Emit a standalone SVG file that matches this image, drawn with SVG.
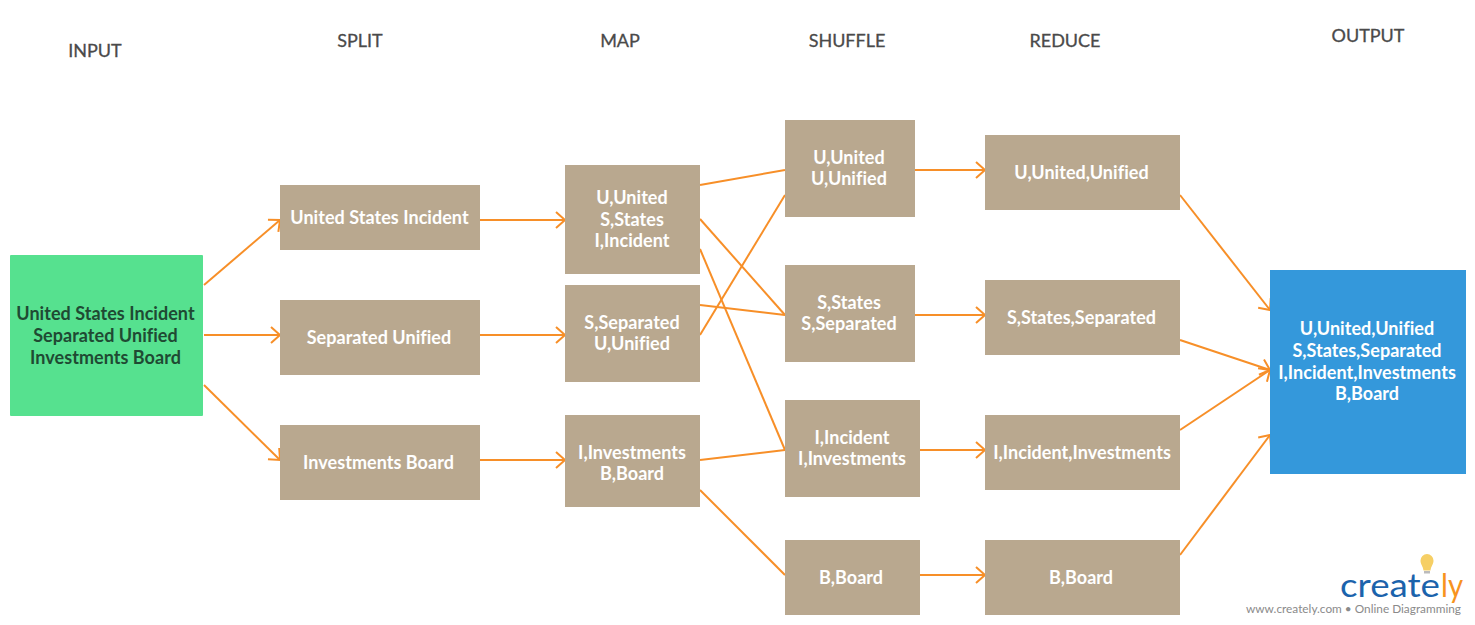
<svg xmlns="http://www.w3.org/2000/svg" width="1475" height="625" viewBox="0 0 1475 625">
<style>
.n{fill:#b9a88f}
text{font-family:Lato,"Liberation Sans",sans-serif}
.w{fill:#fff;font-size:18px;font-weight:700;text-anchor:middle;letter-spacing:.04px}
.d{fill:#1f4a33;font-size:18px;font-weight:700;text-anchor:middle;letter-spacing:.04px}
.h{fill:#4a4a4a;stroke:#4a4a4a;stroke-width:.3px;font-size:18px;text-anchor:middle}
.c line{stroke:#f78f28;stroke-width:2;fill:none}
.a{marker-end:url(#ar)}
</style>
<defs>
<marker id="ar" markerUnits="userSpaceOnUse" markerWidth="14" markerHeight="20" refX="11" refY="9" orient="auto" viewBox="0 0 14 18">
<path d="M2 1L11 9L2 17" fill="none" stroke="#f78f28" stroke-width="2"/>
</marker>
</defs>
<rect width="1475" height="625" fill="#fff"/>
<g id="headers">
<text class="h" x="95" y="57">INPUT</text>
<text class="h" x="360" y="47">SPLIT</text>
<text class="h" x="620" y="47">MAP</text>
<text class="h" x="847" y="47">SHUFFLE</text>
<text class="h" x="1065" y="47">REDUCE</text>
<text class="h" x="1368" y="42">OUTPUT</text>
</g>
<g id="connectors" class="c">
<line class="a" x1="204" y1="285" x2="280" y2="220"/>
<line class="a" x1="204" y1="335" x2="280" y2="335"/>
<line class="a" x1="204" y1="385" x2="280" y2="460"/>
<line class="a" x1="480" y1="220" x2="565" y2="220"/>
<line class="a" x1="480" y1="335" x2="565" y2="335"/>
<line class="a" x1="480" y1="460" x2="565" y2="460"/>
<line x1="700" y1="185" x2="785" y2="170"/>
<line x1="700" y1="219" x2="785" y2="315"/>
<line x1="700" y1="249" x2="785" y2="450"/>
<line x1="700" y1="305" x2="785" y2="315"/>
<line x1="700" y1="335" x2="785" y2="195"/>
<line x1="700" y1="460" x2="785" y2="450"/>
<line x1="700" y1="490" x2="785" y2="575"/>
<line class="a" x1="915" y1="170" x2="985" y2="170"/>
<line class="a" x1="915" y1="315" x2="985" y2="315"/>
<line class="a" x1="920" y1="450" x2="985" y2="450"/>
<line class="a" x1="920" y1="575" x2="985" y2="575"/>
<line class="a" x1="1180" y1="195" x2="1270" y2="310"/>
<line class="a" x1="1180" y1="340" x2="1270" y2="370"/>
<line class="a" x1="1180" y1="430" x2="1270" y2="370"/>
<line class="a" x1="1180" y1="555" x2="1270" y2="435"/>
</g>
<g id="input"><rect x="10" y="255" width="193" height="161" rx="1" fill="#56e18f"/>
<text class="d" x="105.500" y="320.300">United States Incident</text><text class="d" x="105.500" y="342.300">Separated Unified</text><text class="d" x="105.500" y="364.300">Investments Board</text></g>
<g id="split1"><rect class="n" x="280" y="185" width="200" height="65"/><text class="w" x="379.500" y="224.300">United States Incident</text></g>
<g id="split2"><rect class="n" x="280" y="300" width="200" height="75"/><text class="w" x="379" y="344.300">Separated Unified</text></g>
<g id="split3"><rect class="n" x="280" y="425" width="200" height="75"/><text class="w" x="378.500" y="469.300">Investments Board</text></g>
<g id="map1"><rect class="n" x="565" y="165" width="135" height="109"/><text class="w" x="632" y="204.300">U,United</text><text class="w" x="632" y="226.300">S,States</text><text class="w" x="632" y="247.300">I,Incident</text></g>
<g id="map2"><rect class="n" x="565" y="285" width="135" height="97"/><text class="w" x="632" y="329.300">S,Separated</text><text class="w" x="632" y="350.300">U,Unified</text></g>
<g id="map3"><rect class="n" x="565" y="415" width="135" height="92"/><text class="w" x="632" y="459.300">I,Investments</text><text class="w" x="632" y="480.300">B,Board</text></g>
<g id="shuffle1"><rect class="n" x="785" y="120" width="130" height="97"/><text class="w" x="849" y="164.300">U,United</text><text class="w" x="849" y="185.300">U,Unified</text></g>
<g id="shuffle2"><rect class="n" x="785" y="265" width="130" height="97"/><text class="w" x="849" y="309.300">S,States</text><text class="w" x="849" y="330.300">S,Separated</text></g>
<g id="shuffle3"><rect class="n" x="785" y="400" width="135" height="97"/><text class="w" x="852" y="444.300">I,Incident</text><text class="w" x="852" y="465.300">I,Investments</text></g>
<g id="shuffle4"><rect class="n" x="785" y="540" width="135" height="75"/><text class="w" x="851" y="584.300">B,Board</text></g>
<g id="reduce1"><rect class="n" x="985" y="135" width="195" height="75"/><text class="w" x="1081.500" y="179.300">U,United,Unified</text></g>
<g id="reduce2"><rect class="n" x="985" y="280" width="195" height="75"/><text class="w" x="1081.500" y="324.300">S,States,Separated</text></g>
<g id="reduce3"><rect class="n" x="985" y="415" width="195" height="75"/><text class="w" x="1082" y="459.300">I,Incident,Investments</text></g>
<g id="reduce4"><rect class="n" x="985" y="540" width="195" height="75"/><text class="w" x="1081" y="584.300">B,Board</text></g>
<g id="output"><rect x="1270" y="270" width="196" height="204" fill="#3498db"/>
<text class="w" x="1367" y="335.300">U,United,Unified</text><text class="w" x="1367" y="357.300">S,States,Separated</text><text class="w" x="1367" y="379.300">I,Incident,Investments</text><text class="w" x="1367" y="400.300">B,Board</text></g>
<g id="logo">
<path d="M1423.500 570.500C1423 566 1420.500 564.500 1420.500 560.500A6.500 6.500 0 0 1 1433.500 560.500C1433.500 564.500 1431 566 1430.500 570.500Z" fill="#f6cf65"/>
<rect x="1424" y="571" width="6" height="2.500" fill="#bbb"/>
<text x="1340" y="597" font-size="33" fill="#1b63ac" textLength="100" lengthAdjust="spacingAndGlyphs">create</text>
<text x="1441" y="597" font-size="33" fill="#f7931e" textLength="22" lengthAdjust="spacingAndGlyphs">ly</text>
<text x="1246" y="613" font-size="11.500" fill="#8a8a8a" textLength="215" lengthAdjust="spacingAndGlyphs">www.creately.com • Online Diagramming</text>
</g>
</svg>
